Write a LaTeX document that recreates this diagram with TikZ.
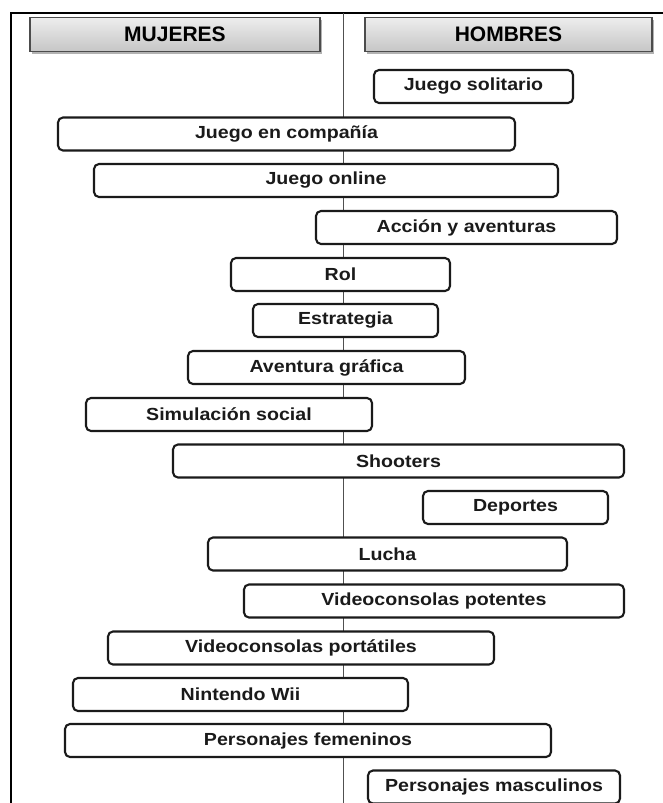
\documentclass[tikz,border=0pt]{standalone}
\usepackage{fontspec}
\newfontfamily\boxfont{Liberation Sans}[FakeStretch=1.12]
\newfontfamily\headfont{Liberation Sans}
\usetikzlibrary{shadows}
\definecolor{ink}{HTML}{1A1A1A}
\definecolor{axis}{HTML}{505050}
\tikzset{
  item/.style={draw=ink, line width=2.1pt, rounded corners=5pt, fill=white,
    minimum height=33pt, inner sep=0pt, text=ink,
    font=\boxfont\bfseries\fontsize{17.5}{20}\selectfont},
  head/.style={draw=gray!60!black, line width=1.2pt, top color=gray!14, bottom color=gray!45,
    minimum height=34pt, inner sep=0pt, text=black,
    drop shadow={shadow xshift=2pt, shadow yshift=-2pt, fill=gray!60, opacity=1},
    font=\headfont\bfseries\fontsize{21}{24}\selectfont},
}
\begin{document}
\begin{tikzpicture}[x=1pt, y=-1pt]
\useasboundingbox (0,0) rectangle (662,803);
\fill[white] (0,0) rectangle (662,803);
% frame
\coordinate (fbl) at (11,806);
\coordinate (ftl) at (11,13);
\coordinate (ftr) at (665,13);
\draw[black, line width=1.6pt] (fbl) -- (ftl) -- (ftr);
% central axis
\coordinate (atop) at (343.5,13);
\coordinate (abot) at (343.5,806);
\draw[axis, line width=1.6pt] (atop) -- (abot);
% headers
\node[head, minimum width=290pt] (muj) at (175,34.5) {MUJERES};
\node[head, minimum width=287pt] (hom) at (508.5,34.5) {HOMBRES};
% items
\node[item, minimum width=199pt] (n1) at (473.5,86.5) {Juego solitario};
\node[item, minimum width=457pt] (n2) at (286.5,134) {Juego en compañía};
\node[item, minimum width=464pt] (n3) at (326,180.5) {Juego online};
\node[item, minimum width=301pt] (n4) at (466.5,227.5) {Acción y aventuras};
\node[item, minimum width=219pt] (n5) at (340.5,274.5) {Rol};
\node[item, minimum width=185pt] (n6) at (345.5,320.5) {Estrategia};
\node[item, minimum width=277pt] (n7) at (326.5,367.5) {Aventura gráfica};
\node[item, minimum width=286pt] (n8) at (229,414.5) {Simulación social};
\node[item, minimum width=451pt] (n9) at (398.5,461) {Shooters};
\node[item, minimum width=185pt] (n10) at (515.5,507.5) {Deportes};
\node[item, minimum width=359pt] (n11) at (387.5,554) {Lucha};
\node[item, minimum width=380pt] (n12) at (434,601) {Videoconsolas potentes};
\node[item, minimum width=386pt] (n13) at (301,648) {Videoconsolas portátiles};
\node[item, minimum width=335pt] (n14) at (240.5,694.5) {Nintendo Wii};
\node[item, minimum width=486pt] (n15) at (308,740.5) {Personajes femeninos};
\node[item, minimum width=252pt] (n16) at (494,787) {Personajes masculinos};
\end{tikzpicture}
\end{document}
